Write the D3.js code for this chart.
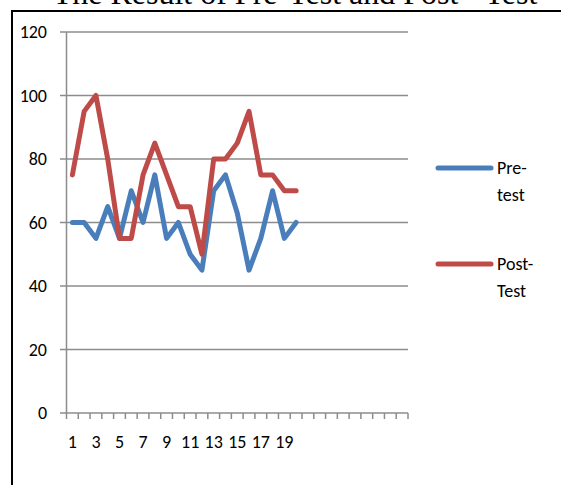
<!DOCTYPE html>
<html>
<head>
<meta charset="utf-8">
<script src="https://cdn.jsdelivr.net/npm/d3@7"></script>
<style>
  html, body { margin: 0; padding: 0; background: #fff; }
  svg { display: block; }
</style>
</head>
<body>
<script>
// Category slots on the x axis (only the first 20 carry data and labels)
const categories = ["1","2","3","4","5","6","7","8","9","10",
                    "11","12","13","14","15","16","17","18","19","20",
                    "","","","","","","","",""];
const preTest  = [60,60,55,65,55,70,60,75,55,60,50,45,70,75,63,45,55,70,55,60];
const postTest = [75,95,100,80,55,55,75,85,75,65,65,50,80,80,85,95,75,75,70,70];
const yTicks = [0,20,40,60,80,100,120];
const seriesNames = ["Pre-test", "Post-Test"];
const seriesColors = ["#4A7EBB", "#BE4B48"];

const W = 561, H = 485;
const svg = d3.select("body").append("svg").attr("width", W).attr("height", H);

const font = "Calibri, Carlito, Lato, sans-serif";
const fs = 18;

// Outer frame (only top and left edges fall inside the view)
svg.append("path")
  .attr("d", `M12,${H} L12,11 L${W},11`)
  .attr("fill", "none").attr("stroke", "#000").attr("stroke-width", 2);

// Title
svg.append("text")
  .attr("x", 295).attr("y", 4)
  .attr("text-anchor", "middle")
  .attr("font-family", "'Liberation Serif', 'Times New Roman', serif")
  .attr("font-size", 32)
  .text("The Result of Pre-Test and Post - Test");

const x = d3.scaleBand().domain(d3.range(categories.length)).range([66.5, 408]);
const y = d3.scaleLinear().domain([0, 120]).range([413, 32]);

// Horizontal gridlines with short outer ticks
svg.append("g").selectAll("line").data(yTicks).join("line")
  .attr("x1", 60).attr("x2", 408)
  .attr("y1", d => y(d)).attr("y2", d => y(d))
  .attr("stroke", "#8c8c8c").attr("stroke-width", 1.5);

// Y axis line
svg.append("line")
  .attr("x1", 66.5).attr("x2", 66.5).attr("y1", y(120)).attr("y2", y(0))
  .attr("stroke", "#8c8c8c").attr("stroke-width", 1.5);

// Y labels
svg.append("g").selectAll("text").data(yTicks).join("text")
  .attr("x", 47).attr("y", d => y(d))
  .attr("dy", "0.35em")
  .attr("text-anchor", "end")
  .attr("font-family", font).attr("font-size", fs)
  .attr("fill", "#000")
  .text(d => d);

// X tick marks at category boundaries
const boundaries = d3.range(categories.length + 1).map(i => 66.5 + i * x.step());
svg.append("g").selectAll("line").data(boundaries).join("line")
  .attr("x1", d => d).attr("x2", d => d)
  .attr("y1", y(0)).attr("y2", y(0) + 6)
  .attr("stroke", "#8c8c8c").attr("stroke-width", 1.5);

// X labels on every other category
svg.append("g").selectAll("text")
  .data(categories.map((c, i) => ({c, i})).filter(d => d.c !== "" && d.i % 2 === 0))
  .join("text")
  .attr("x", d => x(d.i) + x.bandwidth() / 2)
  .attr("y", 448)
  .attr("text-anchor", "middle")
  .attr("font-family", font).attr("font-size", fs)
  .text(d => d.c);

// Series lines
const line = d3.line()
  .x((d, i) => x(i) + x.bandwidth() / 2)
  .y(d => y(d));

[preTest, postTest].forEach((vals, k) => {
  svg.append("path")
    .datum(vals)
    .attr("d", line)
    .attr("fill", "none")
    .attr("stroke", seriesColors[k])
    .attr("stroke-width", 5)
    .attr("stroke-linejoin", "round")
    .attr("stroke-linecap", "round");
});

// Legend
const legendRows = [
  {y: 168, lines: ["Pre-", "test"]},
  {y: 264, lines: ["Post-", "Test"]}
];
legendRows.forEach((r, k) => {
  svg.append("line")
    .attr("x1", 438).attr("x2", 491)
    .attr("y1", r.y).attr("y2", r.y)
    .attr("stroke", seriesColors[k]).attr("stroke-width", 5)
    .attr("stroke-linecap", "round");
  const t = svg.append("text")
    .attr("font-family", font).attr("font-size", fs)
    .attr("aria-label", seriesNames[k]);
  r.lines.forEach((s, j) => {
    t.append("tspan").attr("x", 497).attr("y", r.y + 5.5 + j * 27).text(s);
  });
});
</script>
</body>
</html>
